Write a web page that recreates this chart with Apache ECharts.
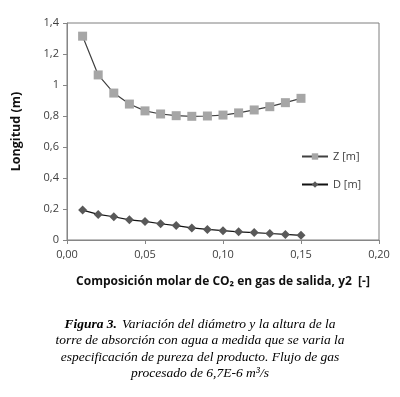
<!DOCTYPE html>
<html>
<head>
<meta charset="utf-8">
<script src="https://cdn.jsdelivr.net/npm/echarts@6/dist/echarts.min.js"></script>
<style>html,body{margin:0;padding:0;background:#fff;}#c{width:400px;height:397px;}</style>
</head>
<body>
<div id="c"></div>
<script>
const xValues = [0.01,0.02,0.03,0.04,0.05,0.06,0.07,0.08,0.09,0.10,0.11,0.12,0.13,0.14,0.15];
const zValues = [1.315,1.065,0.948,0.877,0.833,0.813,0.802,0.798,0.800,0.806,0.820,0.839,0.860,0.886,0.914];
const dValues = [0.193,0.165,0.150,0.130,0.120,0.105,0.093,0.078,0.068,0.060,0.053,0.048,0.042,0.036,0.030];
const seriesNames = ['Z [m]','D [m]'];
const xAxisTitle = 'Composición molar de CO₂ en gas de salida, y2  [-]';
const yAxisTitle = 'Longitud (m)';
const captionLines = [
  'Variación del diámetro y la altura de la',
  'torre de absorción con agua a medida que se varia la',
  'especificación de pureza del producto. Flujo de gas',
  'procesado de 6,7E-6 m³/s'
];

const comma = (v, d) => v.toFixed(d).replace('.', ',');
const chart = echarts.init(document.getElementById('c'), null, {renderer:'canvas'});
const font = "'Open Sans', 'Liberation Sans', sans-serif";
const serif = "'Liberation Serif', 'DejaVu Serif', serif";

chart.setOption({
  animation: false,
  backgroundColor: '#fff',
  grid: {left: 67, right: 21, top: 23, bottom: 157, show: true, borderColor: '#7f7f7f', borderWidth: 1},
  xAxis: {
    type: 'value', min: 0, max: 0.2, interval: 0.05,
    name: xAxisTitle, nameLocation: 'middle', nameGap: 36,
    nameTextStyle: {fontFamily: font, fontWeight: 'bold', fontSize: 12, color: '#111'},
    axisLine: {show: true, lineStyle: {color: '#868686'}},
    axisTick: {show: true, length: 4, lineStyle: {color: '#868686'}},
    splitLine: {show: false},
    axisLabel: {formatter: v => comma(v, 2), fontFamily: font, fontSize: 11, color: '#404040', margin: 9}
  },
  yAxis: {
    type: 'value', min: 0, max: 1.4, interval: 0.2,
    name: yAxisTitle, nameLocation: 'middle', nameGap: 44, nameRotate: 90,
    nameTextStyle: {fontFamily: font, fontWeight: 'bold', fontSize: 12.5, color: '#111'},
    axisLine: {show: true, lineStyle: {color: '#868686'}},
    axisTick: {show: true, length: 4, lineStyle: {color: '#868686'}},
    splitLine: {show: false},
    axisLabel: {formatter: v => v === 0 ? '0' : (Math.abs(v - 1) < 1e-9 ? '1' : comma(v, 1)), fontFamily: font, fontSize: 11, color: '#404040', margin: 8}
  },
  legend: {
    orient: 'vertical', left: 296, top: 146, itemGap: 17, itemWidth: 26, itemHeight: 8,
    textStyle: {fontFamily: font, fontSize: 11, color: '#404040'},
    data: seriesNames
  },
  title: {
    left: 'center', top: 311,
    text: '{b|Figura 3.} {i|' + captionLines[0] + '}\n{i|' + captionLines.slice(1).join('}\n{i|') + '}',
    textStyle: {
      fontWeight: 'normal',
      lineHeight: 16.5,
      rich: {
        b: {fontFamily: serif, fontStyle: 'italic', fontWeight: 'bold', fontSize: 13.5, color: '#000', lineHeight: 16.5},
        i: {fontFamily: serif, fontStyle: 'italic', fontWeight: 'normal', fontSize: 13.5, color: '#000', lineHeight: 16.5}
      }
    }
  },
  series: [
    {
      name: seriesNames[0], type: 'line',
      data: xValues.map((x, i) => [x, zValues[i]]),
      symbol: 'rect', symbolSize: 9,
      itemStyle: {color: '#a6a6a6'},
      lineStyle: {color: '#404040', width: 1.2}
    },
    {
      name: seriesNames[1], type: 'line',
      data: xValues.map((x, i) => [x, dValues[i]]),
      symbol: 'diamond', symbolSize: 9,
      itemStyle: {color: '#595959'},
      lineStyle: {color: '#111', width: 1.2}
    }
  ]
});
</script>
</body>
</html>
